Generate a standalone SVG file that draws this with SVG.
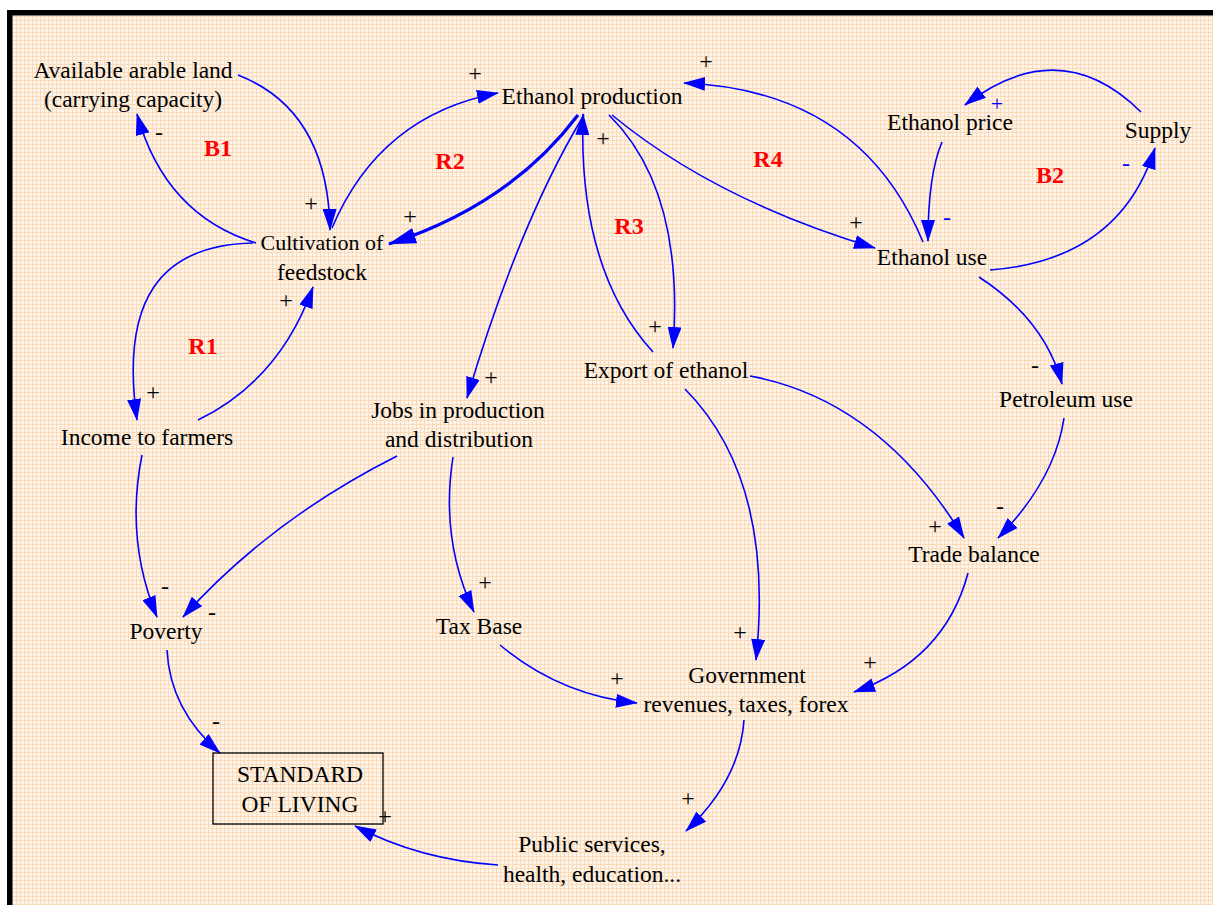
<svg xmlns="http://www.w3.org/2000/svg" width="1213" height="905" viewBox="0 0 1213 905">
<defs>
<style>
text{font-family:'Liberation Serif','Times New Roman',Times,'DejaVu Serif',serif}
.n{font-size:23.5px;fill:#000;text-anchor:middle}
.loop{font-size:24px;font-weight:bold;fill:#FF0000;text-anchor:middle}
.s{font-size:24px;fill:#000;text-anchor:middle}
.sb{font-size:24px;fill:#0000FF;text-anchor:middle}
.c{fill:none;stroke:#0000FF;stroke-width:1.6;marker-end:url(#ah)}
.ct{fill:none;stroke:#0000FF;stroke-width:3.2;marker-end:url(#ah2)}
</style>
<pattern id="grid" width="4" height="4" patternUnits="userSpaceOnUse">
<rect width="4" height="4" fill="#FEF4EA"/>
<path d="M0,0.5H4M0.5,0V4" stroke="#FADAB9" stroke-width="1"/>
</pattern>
<marker id="ah" markerWidth="22" markerHeight="14" refX="21" refY="7" orient="auto" markerUnits="userSpaceOnUse" viewBox="0 0 22 14">
<path d="M0,0 L22,7 L0,14 z" fill="#0000FF"/>
</marker>
<marker id="ah2" markerWidth="28" markerHeight="16" refX="27" refY="8" orient="auto" markerUnits="userSpaceOnUse" viewBox="0 0 28 16">
<path d="M0,0 L28,8 L0,16 z" fill="#0000FF"/>
</marker>
</defs>
<rect width="1213" height="905" fill="#FFFFFF"/>
<rect x="12" y="15" width="1201" height="890" fill="url(#grid)"/>
<rect x="7" y="10" width="1206" height="5.5" fill="#000"/>
<rect x="7" y="10" width="5.5" height="895" fill="#000"/>

<g id="connectors">
<path class="c" d="M238,75 Q328,110 330,230"/>
<path class="c" d="M256,243 Q165,215 137,114"/>
<path class="c" d="M332,228 Q380,115 498,93"/>
<path class="ct" d="M578,115 Q510,205 389,244"/>
<path class="c" d="M584,115 Q520,220 467,398"/>
<path class="c" d="M653,352 Q578,270 583,114"/>
<path class="c" d="M609,115 Q685,190 673,348"/>
<path class="c" d="M612,115 Q715,200 875,248"/>
<path class="c" d="M923,242 Q860,90 684,83"/>
<path class="c" d="M942,142 Q928,175 928,241"/>
<path class="c" d="M990,270 Q1120,260 1155,148"/>
<path class="c" d="M1141,112 Q1060,32 965,105"/>
<path class="c" d="M253,243 C160,245 120,300 137,420"/>
<path class="c" d="M198,420 Q280,380 313,287"/>
<path class="c" d="M142,455 Q125,540 157,617"/>
<path class="c" d="M397,456 Q270,520 183,617"/>
<path class="c" d="M453,457 Q440,540 474,612"/>
<path class="c" d="M500,645 Q560,695 637,703"/>
<path class="c" d="M685,389 Q775,480 756,660"/>
<path class="c" d="M750,376 Q880,400 964,538"/>
<path class="c" d="M979,277 Q1045,320 1062,384"/>
<path class="c" d="M1064,418 Q1055,480 998,538"/>
<path class="c" d="M968,573 Q945,660 854,692"/>
<path class="c" d="M744,720 Q740,780 686,831"/>
<path class="c" d="M498,865 Q420,860 355,826"/>
<path class="c" d="M167,650 Q170,710 220,753"/>
</g>

<g id="polarities">
<text class="s" x="159" y="140">-</text>
<text class="s" x="475" y="81">+</text>
<text class="s" x="311" y="211">+</text>
<text class="s" x="410" y="224">+</text>
<text class="s" x="603" y="146">+</text>
<text class="s" x="655" y="334">+</text>
<text class="s" x="286" y="308">+</text>
<text class="s" x="153" y="400">+</text>
<text class="s" x="165" y="594">-</text>
<text class="s" x="212" y="620">-</text>
<text class="s" x="216" y="729">-</text>
<text class="s" x="385" y="824">+</text>
<text class="s" x="491" y="385">+</text>
<text class="s" x="485" y="590">+</text>
<text class="s" x="617" y="686">+</text>
<text class="s" x="740" y="640">+</text>
<text class="s" x="870" y="670">+</text>
<text class="s" x="935" y="534">+</text>
<text class="s" x="1000" y="514">-</text>
<text class="s" x="1035" y="373">-</text>
<text class="s" x="688" y="806">+</text>
<text class="s" x="706" y="69">+</text>
<text class="s" x="856" y="230">+</text>
<text class="sb" x="947" y="225">-</text>
<text class="sb" x="997" y="111" style="font-size:22px">+</text>
<text class="sb" x="1126" y="171">-</text>
</g>

<g id="loops">
<text class="loop" x="218" y="156">B1</text>
<text class="loop" x="450" y="169">R2</text>
<text class="loop" x="629" y="234">R3</text>
<text class="loop" x="768" y="167">R4</text>
<text class="loop" x="1050" y="183">B2</text>
<text class="loop" x="203" y="354">R1</text>
</g>

<g id="node-arable-land"><text class="n" x="133" y="78">Available arable land</text><text class="n" x="133" y="107">(carrying capacity)</text></g>
<g id="node-ethanol-production"><text class="n" x="592" y="104">Ethanol production</text></g>
<g id="node-cultivation"><text class="n" x="322" y="250" style="font-size:22px">Cultivation of</text><text class="n" x="322" y="280">feedstock</text></g>
<g id="node-income"><text class="n" x="147" y="445">Income to farmers</text></g>
<g id="node-poverty"><text class="n" x="166" y="639">Poverty</text></g>
<g id="node-jobs"><text class="n" x="458" y="418">Jobs in production</text><text class="n" x="459" y="447">and distribution</text></g>
<g id="node-tax-base"><text class="n" x="479" y="634">Tax Base</text></g>
<g id="node-export"><text class="n" x="666" y="378">Export of ethanol</text></g>
<g id="node-government"><text class="n" x="747" y="683">Government</text><text class="n" x="746" y="712">revenues, taxes, forex</text></g>
<g id="node-public-services"><text class="n" x="592" y="852">Public services,</text><text class="n" x="592" y="882">health, education...</text></g>
<g id="node-standard-of-living"><rect x="213" y="753" width="170" height="71" fill="none" stroke="#000" stroke-width="1.3"/><text class="n" x="300" y="782">STANDARD</text><text class="n" x="300" y="812">OF LIVING</text></g>
<g id="node-trade-balance"><text class="n" x="974" y="562">Trade balance</text></g>
<g id="node-petroleum-use"><text class="n" x="1066" y="407">Petroleum use</text></g>
<g id="node-ethanol-use"><text class="n" x="932" y="265">Ethanol use</text></g>
<g id="node-ethanol-price"><text class="n" x="950" y="130">Ethanol price</text></g>
<g id="node-supply"><text class="n" x="1158" y="138">Supply</text></g>
</svg>
